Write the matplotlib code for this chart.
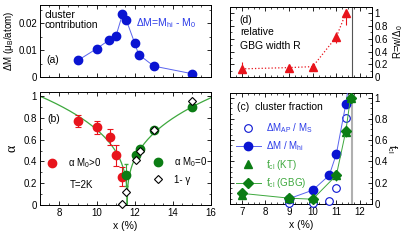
import numpy as np
import matplotlib
matplotlib.use("Agg")
import matplotlib.pyplot as plt
from matplotlib.ticker import MultipleLocator

plt.rcParams['font.family'] = ['Liberation Sans', 'DejaVu Sans']
plt.rcParams['mathtext.fontset'] = 'custom'
plt.rcParams['mathtext.rm'] = 'Liberation Sans'
plt.rcParams['mathtext.it'] = 'Liberation Sans'
plt.rcParams['font.size'] = 7

# panel (a): cluster contribution dM = M_hi - M_0
x_a = [9.0, 10.0, 10.65, 11.0, 11.35, 11.55, 12.0, 12.2, 13.0, 15.0]
dm_a = [0.0063, 0.0107, 0.0139, 0.0152, 0.0234, 0.0213, 0.0126, 0.0085, 0.0042, 0.0014]

# panel (b): alpha, T=2K
x_red = [9.0, 10.0, 10.7, 11.0, 11.35]
a_red = [0.775, 0.715, 0.625, 0.455, 0.26]
e_red = [0.055, 0.06, 0.07, 0.10, 0.09]
x_grn = [11.55, 12.05, 12.25, 13.0, 15.0]
a_grn = [0.275, 0.455, 0.515, 0.69, 0.90]
e_grn = [0.10, 0.03, 0.03, 0.03, 0.03]
x_gam = [11.35, 11.55, 12.05, 12.25, 13.0, 15.0]
g_gam = [0.01, 0.12, 0.41, 0.50, 0.69, 0.955]
# power-law fit drawn in (b)
fit_amp, fit_xc, fit_exp = 0.586, 11.6, 0.35

# panel (c): cluster fraction
x_ap = [9.0, 10.0, 10.7, 11.0, 11.4]
f_ap = [0.005, 0.012, 0.03, 0.155, 0.81]
x_hi = [9.0, 10.0, 10.7, 11.0, 11.4, 11.6]
f_hi = [0.05, 0.13, 0.27, 0.47, 0.94, 1.25]
x_kt = [7.0, 9.0, 10.0, 11.0, 11.4, 11.6]
f_kt = [0.08, 0.06, 0.06, 0.27, 0.68, 1.0]
x_gbg = [7.0, 9.0, 10.0, 11.0, 11.4, 11.6]
f_gbg = [0.10, 0.055, 0.045, 0.27, 0.685, 1.0]
e_gbg = [0.04, 0.02, 0.02, 0.05, 0.06, 0.0]

# panel (d): relative GBG width
x_r = [7.0, 9.0, 10.0, 11.0, 11.4]
r_val = [0.13, 0.15, 0.165, 0.63, 1.0]
r_lo = [0.0, 0.0, 0.0, 0.09, 0.18]
r_hi = [0.11, 0.0, 0.0, 0.08, 0.0]
x_crit = 11.65

RED = '#e8141c'
BLUE = '#0a14d2'
LBLUE = '#5a64ee'
GREEN = '#0b7d14'
LGREEN = '#3da83d'

fig = plt.figure(figsize=(4.15, 2.42), dpi=100)
ax_a = fig.add_axes([0.096, 0.680, 0.412, 0.301])
ax_b = fig.add_axes([0.096, 0.153, 0.412, 0.468])
ax_d = fig.add_axes([0.554, 0.681, 0.342, 0.291])
ax_c = fig.add_axes([0.554, 0.157, 0.342, 0.4575])

for ax in (ax_a, ax_b, ax_c, ax_d):
    ax.tick_params(which='both', direction='in', top=True, right=True, labelsize=7, pad=2)
    ax.tick_params(which='major', length=3, width=0.6)
    ax.tick_params(which='minor', length=1.6, width=0.5)
    for s in ax.spines.values():
        s.set_linewidth(0.7)

# (a)
ax_a.plot(x_a, dm_a, '-o', color=LBLUE, lw=0.7, ms=6, mfc=BLUE, mec=BLUE)
ax_a.set_xlim(7, 16)
ax_a.set_ylim(0, 0.027)
ax_a.xaxis.set_major_locator(MultipleLocator(2))
ax_a.xaxis.set_minor_locator(MultipleLocator(0.5))
ax_a.yaxis.set_major_locator(MultipleLocator(0.01))
ax_a.yaxis.set_minor_locator(MultipleLocator(0.005))
ax_a.set_yticks([0, 0.01, 0.02])
ax_a.set_yticklabels(['0', '0.01', '0.02'])
ax_a.tick_params(labelbottom=False)
ax_a.set_ylabel('ΔM (μ$_B$/atom)', fontsize=7, labelpad=2)
ax_a.text(0.03, 0.93, 'cluster\ncontribution', transform=ax_a.transAxes, va='top', fontsize=7.5, linespacing=1.0)
ax_a.text(0.04, 0.24, '(a)', transform=ax_a.transAxes, va='center', fontsize=7.5)
ax_a.text(0.565, 0.75, 'ΔM=M$_{hi}$ - M$_0$', transform=ax_a.transAxes, va='center', fontsize=7.5, color='#2a3ae8')

# (b)
xf = np.concatenate([np.linspace(7, fit_xc, 200), np.linspace(fit_xc, 16, 200)])
ax_b.plot(xf, fit_amp * np.abs(xf - fit_xc) ** fit_exp, color=LGREEN, lw=0.9, zorder=1)
ax_b.errorbar(x_red, a_red, yerr=e_red, fmt='o', color=RED, ms=6, elinewidth=0.8, capsize=2.5, capthick=0.8, zorder=3)
ax_b.errorbar(x_grn, a_grn, yerr=e_grn, fmt='o', color=LGREEN, mfc=GREEN, mec=GREEN, ms=6, elinewidth=0.8, capsize=1.5, zorder=3)
ax_b.plot(x_gam, g_gam, 'D', ms=4, mfc='white', mec='black', mew=0.8, zorder=4, clip_on=False)
ax_b.set_xlim(7, 16)
ax_b.set_ylim(0, 1.04)
ax_b.xaxis.set_major_locator(MultipleLocator(2))
ax_b.xaxis.set_minor_locator(MultipleLocator(0.5))
ax_b.yaxis.set_minor_locator(MultipleLocator(0.1))
ax_b.set_yticks([0, 0.2, 0.4, 0.6, 0.8, 1.0])
ax_b.set_yticklabels(['0', '0.2', '0.4', '0.6', '0.8', '1'])
ax_b.set_xlabel('x (%)', fontsize=7.5, labelpad=2)
ax_b.set_ylabel('α', fontsize=10, family='Liberation Serif', labelpad=4)
ax_b.text(0.045, 0.76, '(b)', transform=ax_b.transAxes, va='center', fontsize=7.5)
h_red, = ax_b.plot([], [], 'o', color=RED, ms=6)
h_grn, = ax_b.plot([], [], 'o', color=GREEN, ms=6)
h_gam, = ax_b.plot([], [], 'D', ms=4, mfc='white', mec='black', mew=0.8)
leg1 = ax_b.legend([h_red], ['α M$_0$>0'], loc='lower left', bbox_to_anchor=(0.0, 0.25),
                   frameon=False, fontsize=7, handlelength=1.0, handletextpad=1.2, borderaxespad=0.3)
ax_b.add_artist(leg1)
ax_b.legend([h_grn, h_gam], ['α M$_0$=0', '1- γ'], loc='lower left', bbox_to_anchor=(0.62, 0.12),
            frameon=False, fontsize=7, handlelength=1.0, handletextpad=1.2, labelspacing=0.55, borderaxespad=0.3)
ax_b.text(0.175, 0.18, 'T=2K', transform=ax_b.transAxes, va='center', fontsize=7)

# (d)
ax_d.errorbar(x_r, r_val, yerr=[r_lo, r_hi], fmt='^', color=RED, ms=6, ls=':', lw=0.9, elinewidth=0.8, capsize=0, zorder=3)
ax_d.axvline(x_crit, color='#555555', lw=0.8, zorder=1)
ax_d.set_xlim(6.5, 12.5)
ax_d.set_ylim(0, 1.1)
ax_d.xaxis.set_major_locator(MultipleLocator(1))
ax_d.xaxis.set_minor_locator(MultipleLocator(0.25))
ax_d.yaxis.set_minor_locator(MultipleLocator(0.1))
ax_d.set_yticks([0, 0.2, 0.4, 0.6, 0.8, 1.0])
ax_d.set_yticklabels(['0', '0.2', '0.4', '0.6', '0.8', '1'])
ax_d.tick_params(labelbottom=False, labelleft=False, labelright=True)
ax_d.yaxis.set_label_position('right')
ax_d.set_ylabel('R=w/Δ$_0$', fontsize=7, labelpad=2)
ax_d.text(0.07, 0.81, '(d)', transform=ax_d.transAxes, va='center', fontsize=7.5)
ax_d.text(0.07, 0.37, 'relative\nGBG width R', transform=ax_d.transAxes, va='bottom', fontsize=7.5, linespacing=1.5)

# (c)
ax_c.axvline(x_crit, color='#b0b0b0', lw=1.5, zorder=0)
h_ap, = ax_c.plot(x_ap, f_ap, 'o', ms=5.5, mfc='white', mec=BLUE, mew=0.8, zorder=3, clip_on=False)
h_hi, = ax_c.plot(x_hi, f_hi, '-o', color=LBLUE, lw=0.7, ms=6, mfc=BLUE, mec=BLUE, zorder=4)
h_kt, = ax_c.plot(x_kt, f_kt, '^', color=GREEN, ms=6, zorder=4)
ax_c.errorbar(x_gbg, f_gbg, yerr=e_gbg, fmt='none', ecolor=LGREEN, elinewidth=0.8, zorder=4)
h_gbg, = ax_c.plot(x_gbg, f_gbg, '-D', color=LGREEN, lw=0.7, ms=5.5, mfc=GREEN, mec=GREEN, zorder=5)
ax_c.set_xlim(6.5, 12.5)
ax_c.set_ylim(0, 1.04)
ax_c.xaxis.set_major_locator(MultipleLocator(1))
ax_c.xaxis.set_minor_locator(MultipleLocator(0.25))
ax_c.yaxis.set_minor_locator(MultipleLocator(0.05))
ax_c.set_yticks([0, 0.2, 0.4, 0.6, 0.8, 1.0])
ax_c.set_yticklabels(['0', '0.2', '0.4', '0.6', '0.8', '1'])
ax_c.tick_params(labelleft=False, labelright=True)
ax_c.yaxis.set_label_position('right')
ax_c.set_ylabel('f$_{cl}$', fontsize=7.5, rotation=270, labelpad=8)
ax_c.set_xlabel('x (%)', fontsize=7.5, labelpad=2)
ax_c.text(0.05, 0.88, '(c)  cluster fraction', transform=ax_c.transAxes, va='center', fontsize=7.5)
ax_c.legend([h_ap, h_hi, h_kt, h_gbg],
            ['ΔM$_{AP}$ / M$_S$', 'ΔM / M$_{hi}$', 'f$_{cl}$ (KT)', 'f$_{cl}$ (GBG)'],
            loc='upper left', bbox_to_anchor=(0.0, 0.8), frameon=False, fontsize=7,
            handlelength=2.6, handletextpad=0.5, labelspacing=0.45, borderaxespad=0.2,
            labelcolor=['#2a3ae8', '#2a3ae8', LGREEN, LGREEN])

fig.savefig('out.png', dpi=100)
